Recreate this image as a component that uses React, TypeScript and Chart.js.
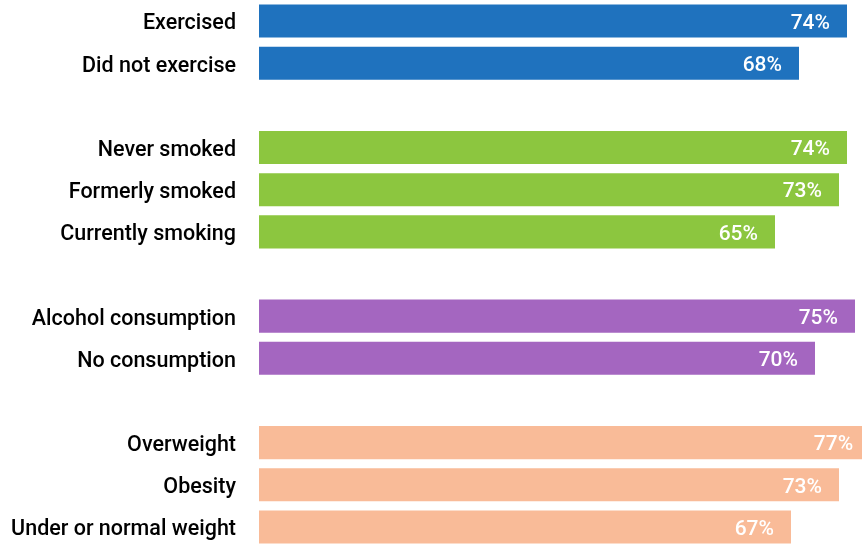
import React, { useEffect, useRef } from "react";
import { Chart, registerables } from "chart.js";

Chart.register(...registerables);

const categories = [
  "Exercised",
  "Did not exercise",
  "",
  "Never smoked",
  "Formerly smoked",
  "Currently smoking",
  " ",
  "Alcohol consumption",
  "No consumption",
  "  ",
  "Overweight",
  "Obesity",
  "Under or normal weight",
];

const values: (number | null)[] = [73.5, 67.5, null, 73.5, 72.5, 64.5, null, 74.5, 69.5, null, 76.4, 72.5, 66.5];
const valueLabels = ["74%", "68%", "", "74%", "73%", "65%", "", "75%", "70%", "", "77%", "73%", "67%"];

const BLUE = "#1f72be";
const GREEN = "#8cc63f";
const PURPLE = "#a466c0";
const PEACH = "#f9bb98";
const barColors = [BLUE, BLUE, BLUE, GREEN, GREEN, GREEN, GREEN, PURPLE, PURPLE, PURPLE, PEACH, PEACH, PEACH];

const FONT = "Roboto, 'DejaVu Sans', sans-serif";

const labelPlugin = {
  id: "barLabels",
  afterDatasetsDraw(chart: any) {
    const ctx = chart.ctx;
    const xs = chart.scales.x;
    const ys = chart.scales.y;
    ctx.save();
    ctx.fillStyle = "#ffffff";
    ctx.font = `500 21px ${FONT}`;
    ctx.textAlign = "right";
    ctx.textBaseline = "middle";
    values.forEach((v, i) => {
      if (v == null) return;
      const x = xs.getPixelForValue(v) - 17;
      const y = ys.getPixelForValue(i) + 2.5;
      ctx.fillText(valueLabels[i], x, y);
    });
    ctx.restore();
  },
};

export default function App() {
  const ref = useRef<HTMLCanvasElement | null>(null);
  useEffect(() => {
    document.body.style.margin = "0";
    document.documentElement.style.overflow = "hidden";
    document.body.style.overflow = "hidden";
    const chart = new Chart(ref.current!, {
      type: "bar",
      data: {
        labels: categories,
        datasets: [
          {
            data: values as any,
            backgroundColor: barColors,
            categoryPercentage: 1,
            barPercentage: 0.785,
          },
        ],
      },
      options: {
        indexAxis: "y",
        animation: false,
        responsive: false,
        maintainAspectRatio: false,
        layout: { padding: 0 },
        plugins: { legend: { display: false }, tooltip: { enabled: false } },
        scales: {
          x: {
            display: false,
            min: 0,
            max: 75.375,
          },
          y: {
            grid: { display: false, drawTicks: false },
            border: { display: false },
            afterFit(scale: any) {
              scale.width = 259;
              scale.paddingTop = 0;
              scale.paddingBottom = 0;
            },
            ticks: {
              color: "#000000",
              padding: 23,
              labelOffset: 3,
              font: { family: FONT, size: 21.5, weight: "500" },
            },
          },
        },
      },
      plugins: [labelPlugin],
    });
    return () => chart.destroy();
  }, []);
  return (
    <div style={{ width: 862, height: 548 }}>
      <canvas ref={ref} width={862} height={548} style={{ display: "block" }} />
    </div>
  );
}
